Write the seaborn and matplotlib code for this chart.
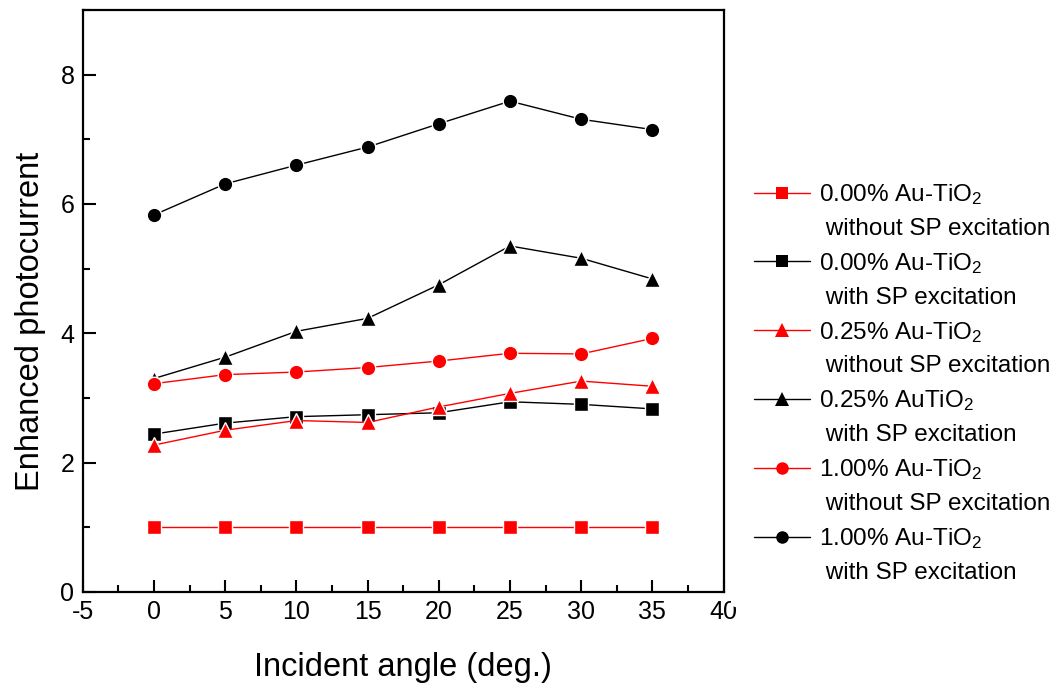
import matplotlib
matplotlib.use("Agg")
import matplotlib.pyplot as plt
import seaborn as sns
from matplotlib.lines import Line2D
from matplotlib.ticker import MultipleLocator

# ---- data ----
angles = [0, 5, 10, 15, 20, 25, 30, 35]
au000_without = [1.00, 1.00, 1.00, 1.00, 1.00, 1.00, 1.00, 1.00]
au000_with = [2.44, 2.61, 2.71, 2.74, 2.77, 2.94, 2.90, 2.83]
au025_without = [2.27, 2.50, 2.65, 2.62, 2.86, 3.07, 3.26, 3.18]
au025_with = [3.30, 3.63, 4.03, 4.23, 4.75, 5.35, 5.16, 4.84]
au100_without = [3.22, 3.36, 3.40, 3.47, 3.57, 3.69, 3.68, 3.92]
au100_with = [5.83, 6.31, 6.60, 6.88, 7.24, 7.59, 7.31, 7.15]

names = ["0.00% Au-TiO$_2$", "0.00% Au-TiO$_2$", "0.25% Au-TiO$_2$",
         "0.25% AuTiO$_2$", "1.00% Au-TiO$_2$", "1.00% Au-TiO$_2$"]
conditions = ["without SP excitation", "with SP excitation",
              "without SP excitation", "with SP excitation",
              "without SP excitation", "with SP excitation"]
x_label = "Incident angle (deg.)"
y_label = "Enhanced photocurrent"

series = [au000_without, au000_with, au025_without, au025_with,
          au100_without, au100_with]
colors = ["#ff0000", "#000000", "#ff0000", "#000000", "#ff0000", "#000000"]
markers = ["s", "s", "^", "^", "o", "o"]
msizes = [9.5, 9.5, 11.5, 11.5, 10.5, 10.5]
leg_sizes = [8.5, 8.5, 10, 10, 9, 9]

sns.set_style("white")
plt.rcParams["font.family"] = ["Liberation Sans", "DejaVu Sans"]
plt.rcParams["mathtext.default"] = "regular"
plt.rcParams["axes.unicode_minus"] = False
plt.rcParams["text.color"] = "black"
plt.rcParams["axes.labelcolor"] = "black"
plt.rcParams["xtick.color"] = "black"
plt.rcParams["ytick.color"] = "black"

fig = plt.figure(figsize=(10.61, 6.89), dpi=100)
ax = fig.add_axes([0.078, 0.141, 0.604, 0.8445])

handles = []
labels = []
for vals, c, m, ms, lms, nm, cond in zip(series, colors, markers, msizes,
                                         leg_sizes, names, conditions):
    sns.lineplot(x=angles, y=vals, ax=ax, color=c, marker=m, markersize=ms,
                 markeredgecolor="white", markeredgewidth=1.0, linewidth=1.0,
                 legend=False)
    handles.append(Line2D([], [], color=c, marker=m, markersize=lms,
                          markeredgecolor=c, markeredgewidth=0, linewidth=1.0))
    labels.append(nm)
    handles.append(Line2D([], [], color="none", linestyle="none"))
    labels.append(" " + cond)

ax.set_xlim(-5, 40)
ax.set_ylim(0, 9)
ax.xaxis.set_major_locator(MultipleLocator(5))
ax.xaxis.set_minor_locator(MultipleLocator(2.5))
ax.yaxis.set_major_locator(MultipleLocator(2))
ax.yaxis.set_minor_locator(MultipleLocator(1))
ax.tick_params(axis="both", which="major", direction="in", length=9, width=1.5,
               labelsize=18, top=False, right=False, bottom=True, left=True,
               colors="black", pad=6)
ax.tick_params(axis="both", which="minor", direction="in", length=5, width=1.5,
               top=False, right=False, bottom=True, left=True, colors="black")
for sp in ax.spines.values():
    sp.set_linewidth(1.6)
    sp.set_color("black")

ax.set_xlabel(x_label, fontsize=23.5, labelpad=20)
ax.set_ylabel(y_label, fontsize=23.5)
ax.yaxis.set_label_coords(-0.058, 0.464)

leg = ax.legend(handles, labels, loc="center left", bbox_to_anchor=(1.011, 0.359),
                borderaxespad=0, frameon=True, fontsize=17.5, handlelength=2.3,
                handletextpad=0.35, labelspacing=0.45, borderpad=0.97)
leg.get_frame().set_facecolor("white")
leg.get_frame().set_edgecolor("none")
leg.get_frame().set_alpha(1)

fig.savefig("out.png", dpi=100)
